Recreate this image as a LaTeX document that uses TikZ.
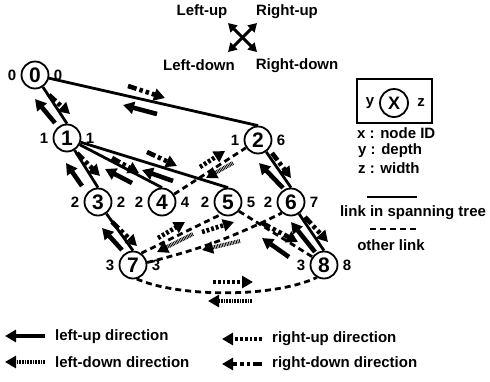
\documentclass[tikz,border=0pt]{standalone}
\usepackage{fontspec}
\setmainfont{Liberation Sans}
\usetikzlibrary{arrows.meta,calc}
\pgfdeclarelayer{links}
\pgfsetlayers{links,main}

\tikzset{
  idnode/.style={circle, draw, line width=1.8pt, minimum size=27pt, inner sep=0pt,
                 fill=white, font=\fontsize{21}{21}\selectfont\bfseries},
  lbl/.style={inner sep=0pt, font=\fontsize{15}{15}\selectfont\bfseries},
  tree/.style={line width=2.8pt},
  other/.style={line width=2.8pt, dash pattern=on 6pt off 4pt},
  dirbase/.style={line width=4.6pt, -{Triangle[length=11pt,width=12pt]}},
  lu/.style={dirbase},
  ld/.style={dirbase, line width=4pt, dash pattern=on 0.8pt off 0.8pt},
  ru/.style={dirbase, dash pattern=on 2.8pt off 2pt},
  rd/.style={dirbase, dash pattern=on 9pt off 3pt on 3.5pt off 3pt on 3.5pt off 3pt},
  compass/.style={line width=3pt,
                  {Triangle[length=8.5pt,width=9.5pt]}-{Triangle[length=8.5pt,width=9.5pt]}},
}

% tree node: name, position, id, depth, width
\newcommand\tnode[5]{%
  \node[idnode] (#1) at (#2) {#3};
  \node[lbl] (#1d) at ($(#1)+(-23,0)$) {#4};
  \node[lbl] (#1w) at ($(#1)+(23,0)$) {#5};
}
% direction marker: style, tail, head
\newcommand\dmark[3]{\draw[#1] (#2) -- (#3);}

\begin{document}
\begin{tikzpicture}[x=1pt, y=-1pt]
\useasboundingbox (0,0) rectangle (490,381);

% ---- compass ----
\coordinate (cul) at (228,23);
\coordinate (cur) at (257,23);
\coordinate (cll) at (228,52);
\coordinate (clr) at (257,52);
\draw[compass] (cul) -- (clr);
\draw[compass] (cur) -- (cll);
\node[lbl] (tlu) at (202,12) {Left-up};
\node[lbl] (tru) at (287,12) {Right-up};
\node[lbl] (tld) at (199,65) {Left-down};
\node[lbl] (trd) at (297,66) {Right-down};

% ---- nodes ----
\tnode{n0}{35,75}{0}{0}{0}
\tnode{n1}{67,138}{1}{1}{1}
\tnode{n2}{258,140}{2}{1}{6}
\tnode{n3}{98,202}{3}{2}{2}
\tnode{n4}{162,202}{4}{2}{4}
\tnode{n5}{228,202}{5}{2}{5}
\tnode{n6}{291,202}{6}{2}{7}
\tnode{n7}{133,265}{7}{3}{3}
\tnode{n8}{324,265}{8}{3}{8}

% ---- links, kept behind the circles ----
\begin{pgfonlayer}{links}
\draw[tree] (n0) -- (n1.north);
\draw[tree] (n0) -- (n2.north);
\draw[tree] (n1) -- (n3.north);
\draw[tree] (n1) -- (n4.north);
\draw[tree] (n1) -- (n5.north);
\draw[tree] (n2) -- (n6.north);
\draw[tree] (n3) -- (n7.north);
\draw[tree] (n6) -- (n8.north);

\draw[other] (n4) -- (n2);
\draw[other] (n5.-40) -- (n8.145);
\draw[other] (n7.55) -- (n5.-120);
\draw[other] (n7.10) to[bend right=6] (n6.-130);
\draw[other] (n7.-75) .. controls +(40,18) and +(-45,21) .. (n8.-120);
\end{pgfonlayer}

% ---- direction markers along the links ----
\dmark{rd}{49,95}{70,114}    \dmark{lu}{55,123}{35,99}
\dmark{rd}{128,86}{165,98}   \dmark{lu}{157,114}{123,105}
\dmark{rd}{77,153}{100,176}  \dmark{lu}{82,186}{66,163}
\dmark{rd}{112,158}{139,173} \dmark{lu}{132,183}{105,169}
\dmark{rd}{147,152}{177,166} \dmark{lu}{173,181}{142,170}
\dmark{ru}{200,167}{225,151} \dmark{ld}{233,163}{206,178}
\dmark{rd}{272,153}{291,178} \dmark{lu}{283,188}{259,163}
\dmark{rd}{112,222}{137,246} \dmark{lu}{122,250}{102,228}
\dmark{rd}{305,217}{328,242} \dmark{lu}{315,252}{291,222}
\dmark{rd}{262,223}{298,242} \dmark{lu}{289,257}{262,238}
\dmark{ru}{158,238}{185,222} \dmark{ld}{193,234}{157,252}
\dmark{ru}{202,232}{234,222} \dmark{ld}{240,241}{202,250}
\dmark{ru}{213,282}{253,282} \dmark{ld}{252,301}{208,301}

% ---- legend: node format ----
\draw[line width=1.5pt] (357,79) rectangle (432,123);
\node[lbl] (ky) at (370,103.5) {y};
\node[idnode, minimum size=28pt, font=\fontsize{18}{18}\selectfont\bfseries] (kx) at (394,103) {X};
\node[lbl] (kz) at (421,102.5) {z};
\node[lbl, anchor=west] (kx1) at (357,133.5) {x : node ID};
\node[lbl, anchor=west] (ky1) at (358,150.5) {y : depth};
\node[lbl, anchor=west] (kz1) at (358,168) {z : width};

% ---- legend: link kinds ----
\coordinate (ta) at (367,197);
\coordinate (tb) at (417,197);
\draw[tree] (ta) -- (tb);
\node[lbl] (ktree) at (413,213) {link in spanning tree};
\coordinate (oa) at (370,229);
\coordinate (ob) at (417,229);
\draw[other] (oa) -- (ob);
\node[lbl] (kother) at (391,245) {other link};

% ---- legend: direction markers ----
\dmark{lu}{45,336}{5,336}
\dmark{ld}{45,362}{5,362}
\dmark{ru}{262,339}{222,339}
\dmark{rd}{262,364}{222,364}
\node[lbl, anchor=west] (klu) at (55,337) {left-up direction};
\node[lbl, anchor=west] (kld) at (55,362) {left-down direction};
\node[lbl, anchor=west] (kru) at (272,339) {right-up direction};
\node[lbl, anchor=west] (krd) at (272,364) {right-down direction};
\end{tikzpicture}
\end{document}
